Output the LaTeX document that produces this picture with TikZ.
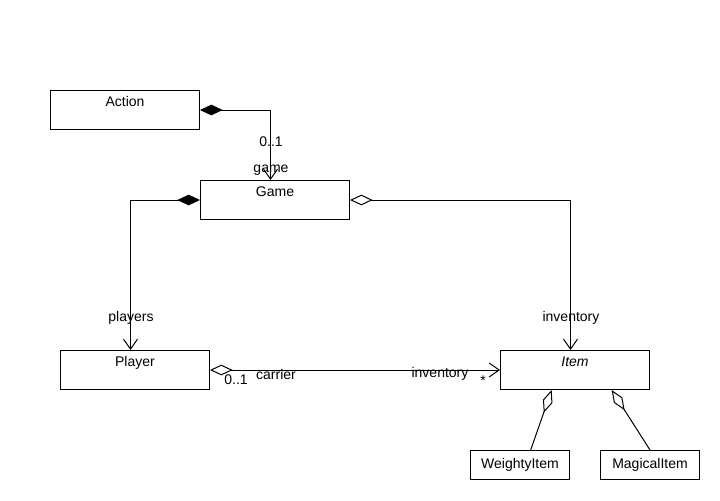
\documentclass[tikz,border=0pt]{standalone}
\usepackage{fontspec}
\setmainfont{Liberation Sans}
\usetikzlibrary{arrows.meta}

\tikzset{every picture/.style={line width=0.75pt}}
\tikzset{
  classbox/.style={draw, rectangle, inner sep=0pt, minimum width=111.75pt, minimum height=29.25pt, text height=12pt, text depth=17.25pt, font=\fontsize{10.5}{12}\selectfont},
  subbox/.style={draw, rectangle, inner sep=0pt, minimum width=74.25pt, minimum height=21.75pt, text height=13.5pt, text depth=8.25pt, font=\fontsize{10.5}{12}\selectfont},
  rolelabel/.style={inner sep=0.75pt, font=\fontsize{10.5}{12}\selectfont},
  composition/.style={{Diamond[length=17pt,width=8pt]}-{Straight Barb[length=7.5pt,width=10.5pt]}},
  aggregation/.style={{Diamond[open,length=17pt,width=8pt]}-{Straight Barb[length=7.5pt,width=10.5pt]}},
  generalise/.style={-{Diamond[open,length=18pt,width=7.5pt]}}
}

\begin{document}
\begin{tikzpicture}[x=0.75pt,y=0.75pt,yscale=-1,xscale=1]
\useasboundingbox (0,0) rectangle (720,500);
%Shape: Class boxes
\node [classbox, anchor=north west] (action) at (50,90) {Action};
\node [classbox, anchor=north west] (game) at (200,180) {Game};
\node [classbox, anchor=north west] (player) at (60,350) {Player};
\node [classbox, anchor=north west] (item) at (500,350) {\itshape Item};
\node [subbox, anchor=north west] (weighty) at (470,450) {WeightyItem};
\node [subbox, anchor=north west] (magical) at (600,450) {MagicalItem};

%Connectors
\draw [composition] (action.east) -| ([xshift=-3.375pt]game.north);
\draw [composition] (game.west) -| ([xshift=-3.375pt]player.north);
\draw [aggregation] (game.east) -| ([xshift=-3.375pt]item.north);
\draw [aggregation] (player.east) -- (item.west);
\draw [generalise] ([xshift=8pt]weighty.north) -- ([xshift=-17.5pt]item.south);
\draw [generalise] (magical.north) -- ([xshift=27.5pt]item.south);

% Text Node
\node [rolelabel] (mult1) at (271,142) {0..1};
% Text Node
\node [rolelabel] (role1) at (271,170) {game};
% Text Node
\node [rolelabel] (role2) at (131,318) {players};
% Text Node
\node [rolelabel] (role3) at (571,318) {inventory};
% Text Node
\node [rolelabel] (mult2) at (236,380) {0..1};
% Text Node
\node [rolelabel] (role4) at (276,374) {carrier};
% Text Node
\node [rolelabel] (role5) at (440,374) {inventory};
% Text Node
\node [rolelabel] (mult3) at (483,381) {*};

\end{tikzpicture}
\end{document}
